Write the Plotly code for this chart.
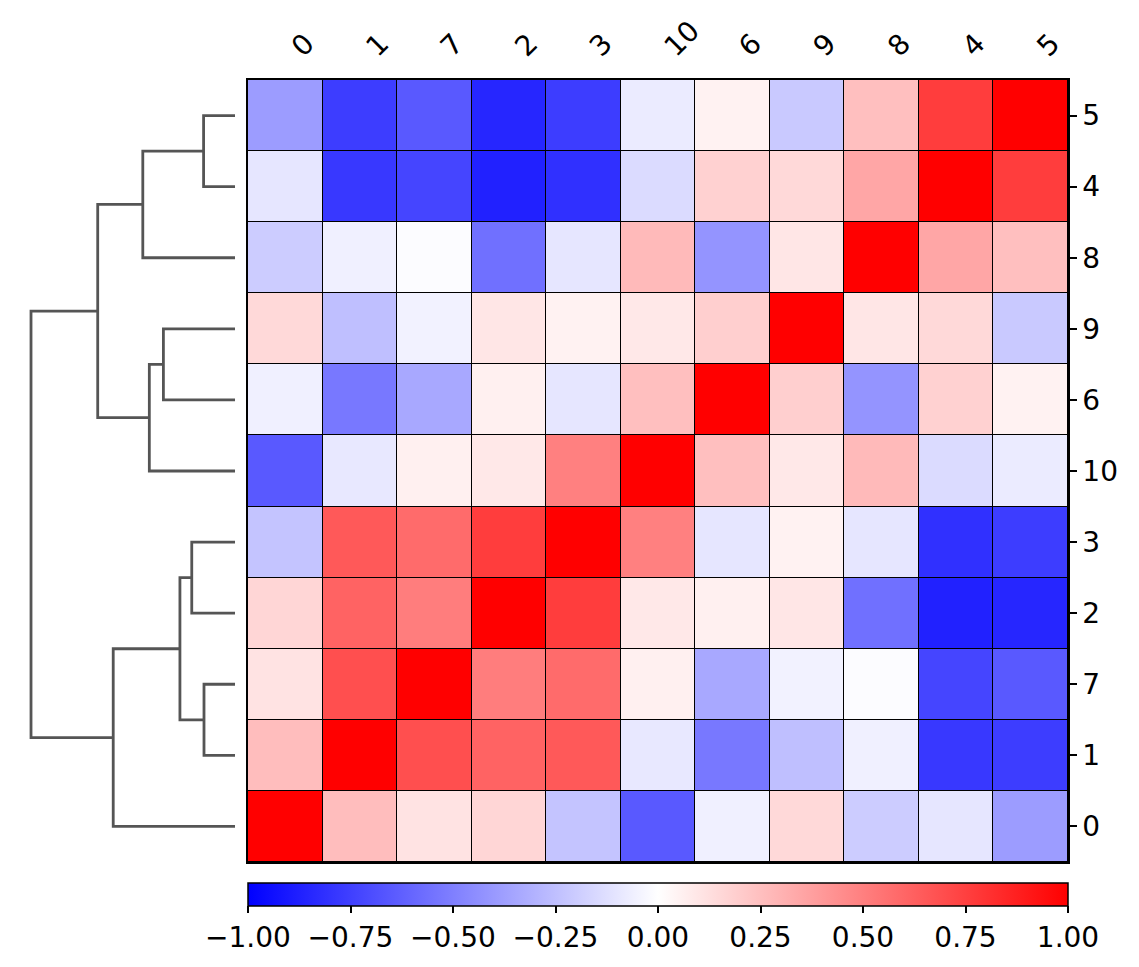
import plotly.graph_objects as go

# ---------------- data ----------------
variables = [str(i) for i in range(11)]

# upper-triangle correlations: (i, j, r)
pairs = [
    (0, 1, 0.26), (0, 2, 0.16), (0, 3, -0.23), (0, 4, -0.10), (0, 5, -0.39),
    (0, 6, -0.06), (0, 7, 0.11), (0, 8, -0.20), (0, 9, 0.15), (0, 10, -0.65),
    (1, 2, 0.61), (1, 3, 0.65), (1, 4, -0.78), (1, 5, -0.76), (1, 6, -0.53),
    (1, 7, 0.69), (1, 8, -0.06), (1, 9, -0.25), (1, 10, -0.09),
    (2, 3, 0.76), (2, 4, -0.87), (2, 5, -0.85), (2, 6, 0.06), (2, 7, 0.51),
    (2, 8, -0.56), (2, 9, 0.10), (2, 10, 0.09),
    (3, 4, -0.81), (3, 5, -0.76), (3, 6, -0.10), (3, 7, 0.58), (3, 8, -0.10),
    (3, 9, 0.05), (3, 10, 0.50),
    (4, 5, 0.76), (4, 6, 0.18), (4, 7, -0.73), (4, 8, 0.35), (4, 9, 0.15),
    (4, 10, -0.14),
    (5, 6, 0.05), (5, 7, -0.65), (5, 8, 0.25), (5, 9, -0.21), (5, 10, -0.08),
    (6, 7, -0.34), (6, 8, -0.42), (6, 9, 0.19), (6, 10, 0.25),
    (7, 8, -0.01), (7, 9, -0.05), (7, 10, 0.06),
    (8, 9, 0.10), (8, 10, 0.27),
    (9, 10, 0.09),
]

col_order = [0, 1, 7, 2, 3, 10, 6, 9, 8, 4, 5]    # columns left -> right
row_order = [5, 4, 8, 9, 6, 10, 3, 2, 7, 1, 0]    # rows top -> bottom

# linkage (scipy style): new cluster id = 11 + index ; (left, right, height)
linkage = [
    (5, 4, 0.154),    # 11
    (7, 1, 0.152),    # 12
    (3, 2, 0.212),    # 13
    (13, 12, 0.270),  # 14
    (9, 6, 0.351),    # 15
    (15, 10, 0.420),  # 16
    (11, 8, 0.452),   # 17
    (14, 0, 0.597),   # 18
    (17, 16, 0.673),  # 19
    (19, 18, 1.000),  # 20
]

cbar_ticks = [-1.0, -0.75, -0.5, -0.25, 0.0, 0.25, 0.5, 0.75, 1.0]

# ---------------- build ----------------
n = len(variables)
corr = [[1.0 if i == j else None for j in range(n)] for i in range(n)]
for i, j, r in pairs:
    corr[i][j] = r
    corr[j][i] = r

z = [[corr[r][c] for c in col_order] for r in row_order]

# dendrogram coordinates (y = row position, x = distance)
pos = {leaf: k for k, leaf in enumerate(row_order)}
hgt = {leaf: 0.0 for leaf in range(n)}
dx, dy = [], []
for k, (a, b, h) in enumerate(linkage):
    cid = n + k
    dx += [hgt[a], h, h, hgt[b], None]
    dy += [pos[a], pos[a], pos[b], pos[b], None]
    pos[cid] = (pos[a] + pos[b]) / 2
    hgt[cid] = h

W, H = 1139, 967
hx0, hx1 = 248 / W, 1068 / W
hy0, hy1 = 1 - 862 / H, 1 - 80 / H
FONT = "DejaVu Sans"

def fmt(v):
    s = f"{v:.2f}"
    return s.replace("-", "\u2212")

fig = go.Figure()
fig.add_trace(go.Heatmap(
    z=z, x=list(range(n)), y=list(range(n)),
    zmin=-1, zmax=1,
    colorscale=[[0, "rgb(0,0,255)"], [0.5, "rgb(255,255,255)"], [1, "rgb(255,0,0)"]],
    xgap=1, ygap=1,
    hoverinfo="skip",
    colorbar=dict(
        orientation="h", x=(hx0 + hx1) / 2, xanchor="center",
        y=1 - 883 / H, yanchor="top",
        len=hx1 - hx0, lenmode="fraction", thickness=23,
        xpad=0, ypad=0,
        outlinewidth=1.5, outlinecolor="black",
        ticks="outside", ticklen=7, tickwidth=1.5, tickcolor="black",
        tickvals=cbar_ticks, ticktext=[fmt(v) for v in cbar_ticks],
        tickfont=dict(family=FONT, size=28, color="black"),
    ),
))
fig.add_trace(go.Scatter(
    x=dx, y=dy, mode="lines", xaxis="x2", yaxis="y",
    line=dict(color="#555555", width=2.8),
    hoverinfo="skip", showlegend=False,
))

# black backing behind the heatmap so the cell gaps show as thin black edges
fig.add_shape(type="rect", xref="x domain", yref="y domain",
              x0=0, x1=1, y0=0, y1=1, fillcolor="black",
              line=dict(width=0), layer="below")

fig.update_layout(
    width=W, height=H,
    margin=dict(l=0, r=0, t=0, b=0, autoexpand=False),
    paper_bgcolor="white", plot_bgcolor="white",
    showlegend=False,
    xaxis=dict(
        domain=[hx0, hx1], range=[-0.5, n - 0.5], side="top",
        tickvals=list(range(n)), ticktext=[variables[c] for c in col_order],
        tickangle=-45, ticks="", showgrid=False, zeroline=False,
        ticklabelstandoff=5, ticklabelshift=8,
        showline=True, mirror=True, linecolor="black", linewidth=1.5,
        tickfont=dict(family=FONT, size=28, color="black"), anchor="y",
    ),
    yaxis=dict(
        domain=[hy0, hy1], range=[n - 0.5, -0.5], side="right",
        tickvals=list(range(n)), ticktext=[variables[r] for r in row_order],
        ticks="outside", ticklen=7, tickwidth=1.5, tickcolor="black",
        showgrid=False, zeroline=False,
        showline=True, mirror=True, linecolor="black", linewidth=1.5,
        tickfont=dict(family=FONT, size=28, color="black"), anchor="x",
    ),
    xaxis2=dict(
        domain=[0, hx0], range=[1.152, -0.0637], visible=False,
        showgrid=False, zeroline=False, anchor="y",
    ),
)

fig.write_html("out.html",
               config={"displayModeBar": False},
               post_script="document.body.style.margin='0';"
                           "document.body.style.overflow='hidden';")
